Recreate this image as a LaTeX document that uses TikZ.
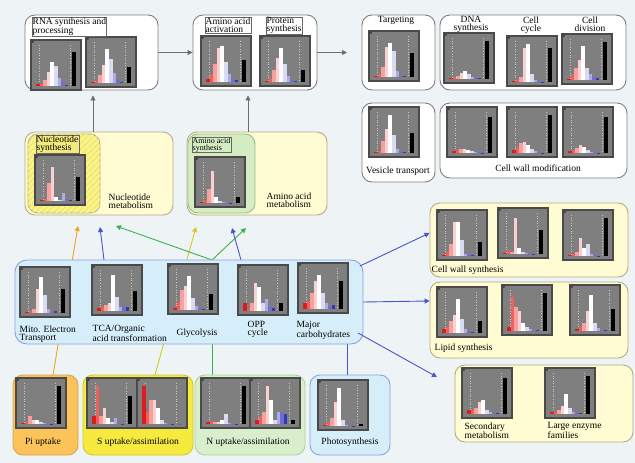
\documentclass[tikz,border=0pt]{standalone}
\usepackage{fontspec}
\setmainfont{Liberation Serif}
\usetikzlibrary{fit,arrows.meta,calc}

\definecolor{bg}{HTML}{EEF3F6}
\definecolor{boxedge}{HTML}{808080}
\definecolor{cream}{HTML}{FFFBD2}
\definecolor{creamedge}{HTML}{B3AC86}
\definecolor{nucyellow}{HTML}{F2EA7C}
\definecolor{aagreen}{HTML}{D6EDC4}
\definecolor{aagreenedge}{HTML}{9DBB8C}
\definecolor{cenblue}{HTML}{D6EEFA}
\definecolor{cenedge}{HTML}{8AA2E0}
\definecolor{piorange}{HTML}{FDC35B}
\definecolor{syellow}{HTML}{F6EA3F}
\definecolor{ngreen}{HTML}{D9EFCB}
\definecolor{ngreenedge}{HTML}{A9D49A}
\definecolor{panelgray}{HTML}{7F7F7F}
\definecolor{paneledge}{HTML}{4A4A4A}
\definecolor{gridline}{HTML}{C8C8C8}
\definecolor{lnorange}{HTML}{F0A424}
\definecolor{lnyellow}{HTML}{D4CC1E}
\definecolor{lngreen}{HTML}{3DB14F}
\definecolor{lnblue}{HTML}{4A55C8}
\definecolor{lngray}{HTML}{6E6E6E}
\definecolor{bin1}{HTML}{E31A1C}
\definecolor{bin2}{HTML}{F0605A}
\definecolor{bin3}{HTML}{F7A0A0}
\definecolor{bin4}{HTML}{FBD0D0}
\definecolor{bin5}{HTML}{FFFFFF}
\definecolor{bin6}{HTML}{DADAF4}
\definecolor{bin7}{HTML}{ABABE8}
\definecolor{bin8}{HTML}{6E6ED0}
\definecolor{bin9}{HTML}{3636B5}

% histogram panel: #1,#2 top-left corner, #3 nine bin heights (0..1), #4 black bar height
\newcommand\hist[4]{%
  \begin{scope}[shift={(#1,#2)}]
    \fill[panelgray] (0,0) rectangle (50,50);
    \draw[gridline, dotted, line width=0.6pt] (8,5) -- (8,46) (39,5) -- (39,46);
    \foreach \h [count=\i] in {#3} {
      \fill[fill=bin\i] ({5+(\i-1)*3.6},46) rectangle ({5+\i*3.6},{46-40*\h});
    }
    \fill[black] (41,46) rectangle (45,{46-40*#4});
    \draw[paneledge, line width=1.6pt] (0,0) rectangle (50,50);
    \fill[black!75] (1.8,1.8) circle (1.3);
  \end{scope}}

\tikzset{
  region/.style={inner sep=0pt, rounded corners=10pt, line width=0.9pt},
  whitebox/.style={region, fill=white, draw=boxedge},
  creambox/.style={region, fill=cream, draw=creamedge},
  lbl/.style={font=\fontsize{9.5}{8}\selectfont, inner sep=0.5pt, align=left},
  smalllbl/.style={font=\fontsize{8}{7}\selectfont, inner sep=0.5pt, align=left},
  framedlbl/.style={lbl, draw=black!60, line width=0.4pt, fill=white},
  conn/.style={line width=0.9pt, -{Triangle[length=5pt,width=5pt]}},
}

\begin{document}
\begin{tikzpicture}[x=1pt, y=-1pt]
\useasboundingbox (0,0) rectangle (635,463);
\fill[bg] (0,0) rectangle (635,463);

% ---------- colored connectors (drawn first, regions cover them) ----------
\coordinate (piTop) at (53,375);
\coordinate (nucInA) at (78,226);
\coordinate (tcaTop) at (104,260);
\coordinate (nucInB) at (100,227);
\coordinate (sTop) at (155,375);
\coordinate (aaInA) at (196,227);
\coordinate (nTop) at (212,375);
\coordinate (nSplit) at (212,260);
\coordinate (nucInC) at (116,226);
\coordinate (aaInB) at (246,228);
\coordinate (oppTop) at (241,260);
\coordinate (aaInC) at (232,228);
\coordinate (phTop) at (347,375);
\coordinate (phIn) at (347,344);

\draw[conn, lnorange] (piTop) -- (nucInA);
\draw[conn, lnyellow] (sTop) -- (aaInA);
\draw[line width=0.9pt, lngreen] (nTop) -- (nSplit);
\draw[conn, lngreen] (nSplit) -- (nucInC);
\draw[conn, lngreen] (nSplit) -- (aaInB);
\draw[conn, lnblue] (tcaTop) -- (nucInB);
\draw[conn, lnblue] (oppTop) -- (aaInC);
\draw[line width=0.9pt, lnblue] (phTop) -- (phIn);

% ---------- top row ----------
\node[whitebox, fit={(25,15) (158,90)}] (rnaBox) {};
\hist{31}{40}{0.06,0.05,0.15,0.35,0.6,0.5,0.2,0.08,0.03}{0.85}
\hist{86}{37}{0.03,0.05,0.2,0.45,0.85,0.6,0.25,0.08,0.03}{0.4}
\node[framedlbl, anchor=north west] (rnaLbl) at (32,17) {RNA synthesis and\\processing};

\node[whitebox, fit={(193,15) (317,90)}] (aaBox) {};
\hist{201}{36}{0.08,0.2,0.45,0.85,0.9,0.5,0.2,0.08,0.06}{0.55}
\hist{260}{36}{0.03,0.1,0.3,0.6,0.85,0.45,0.15,0.05,0.02}{0.3}
\node[framedlbl, anchor=north west] (actLbl) at (205,17) {Amino acid\\activation};
\node[framedlbl, anchor=north west] (proLbl) at (266,17) {Protein\\synthesis};

\node[whitebox, fit={(362,15) (435,90)}] (tgtBox) {};
\hist{369}{31}{0.03,0.08,0.25,0.75,0.85,0.65,0.15,0.04,0.02}{0.6}
\node[lbl, anchor=north] (tgtLbl) at (396,16) {Targeting};

\node[whitebox, fit={(440,15) (626,90)}] (dnaBox) {};
\hist{444}{33}{0.03,0.05,0.08,0.15,0.2,0.12,0.05,0.03,0.02}{0.95}
\hist{507}{36}{0.02,0.05,0.12,0.85,0.95,0.2,0.05,0.02,0.01}{0.85}
\hist{562}{34}{0.03,0.12,0.3,0.5,0.85,0.3,0.15,0.08,0.04}{0.95}
\node[lbl, anchor=north, align=center] (dnaLbl) at (471,16) {DNA\\synthesis};
\node[lbl, anchor=north, align=center] (ccLbl) at (531,16) {Cell\\cycle};
\node[lbl, anchor=north, align=center] (cdLbl) at (590,16) {Cell\\division};

% ---------- second row right ----------
\node[whitebox, fit={(362,103) (435,182)}] (vesBox) {};
\hist{369}{107}{0.02,0.05,0.3,0.6,0.95,0.45,0.1,0.04,0.02}{0.5}
\node[lbl] (vesLbl) at (398,171) {Vesicle transport};

\node[whitebox, fit={(440,103) (627,178)}] (cwmBox) {};
\hist{447}{107}{0.05,0.08,0.1,0.1,0.08,0.05,0.03,0.02,0.01}{0.9}
\hist{507}{107}{0.08,0.15,0.25,0.28,0.2,0.1,0.05,0.03,0.01}{0.95}
\hist{563}{107}{0.05,0.08,0.12,0.2,0.15,0.08,0.03,0.02,0.01}{0.9}
\node[lbl] (cwmLbl) at (538,168) {Cell wall modification};

% ---------- nucleotide metabolism ----------
\node[creambox, fit={(25,132) (173,215)}] (nucOuter) {};
\node[region, fill=nucyellow, draw=creamedge, fit={(28,134) (100,213)}] (nucInner) {};
\begin{scope}
  \clip[rounded corners=10pt] (28,134) rectangle (100,213);
  \foreach \k in {0,6,...,160} {
    \draw[yellow!45!white, line width=1.2pt] ({28+\k-80},213) -- ({28+\k},133);
  }
\end{scope}
\hist{35}{155}{0.02,0.05,0.45,0.85,0.1,0.02,0.2,0.05,0.02}{0.6}
\node[framedlbl, fill=nucyellow, anchor=north west] (nsLbl) at (36,135) {Nucleotide\\synthesis};
\node[lbl, anchor=north west] (nmLbl) at (108,193) {Nucleotide\\metabolism};

% ---------- amino acid metabolism ----------
\node[creambox, fit={(187,132) (327,215)}] (aamOuter) {};
\node[region, fill=aagreen, draw=aagreenedge, fit={(188,134) (255,213)}] (aamInner) {};
\hist{195}{157}{0.02,0.08,0.35,0.8,0.15,0.05,0.02,0.01,0.01}{0.15}
\node[smalllbl, draw=black!60, line width=0.4pt, anchor=north west] (asLbl) at (192,137) {Amino acid\\synthesis};
\node[lbl, anchor=north west] (amLbl) at (266,192) {Amino acid\\metabolism};

% ---------- central carbon metabolism ----------
\node[region, rounded corners=12pt, fill=cenblue, draw=cenedge, fit={(15,260) (363,344)}] (cenBox) {};
\hist{20}{267}{0.02,0.05,0.1,0.6,0.9,0.45,0.1,0.03,0.05}{0.6}
\hist{92}{265}{0.08,0.1,0.15,0.2,0.9,0.35,0.1,0.1,0.1}{0.5}
\hist{168}{264}{0.05,0.2,0.5,0.6,0.85,0.3,0.1,0.04,0.02}{0.4}
\hist{238}{265}{0.2,0.05,0.2,0.7,0.6,0.2,0.3,0.1,0.08}{0.2}
\hist{298}{263}{0.15,0.2,0.4,0.7,0.85,0.4,0.15,0.05,0.1}{0.7}
\node[lbl, anchor=north west] (mitoLbl) at (19,325) {Mito. Electron\\Transport};
\node[lbl, anchor=north west] (tcaLbl) at (92,325) {TCA/Organic\\acid transformation};
\node[lbl, anchor=north west] (glyLbl) at (176,328) {Glycolysis};
\node[lbl, anchor=north west] (oppLbl) at (247,321) {OPP\\cycle};
\node[lbl, anchor=north west] (choLbl) at (296,321) {Major\\carbohydrates};

% ---------- right-hand boxes ----------
\node[creambox, fit={(430,203) (628,277)}] (cwsBox) {};
\hist{437}{210}{0.03,0.1,0.3,0.85,0.85,0.4,0.05,0.05,0.03}{0.35}
\hist{498}{208}{0.02,0.1,0.05,0.9,0.15,0.05,0.02,0.01,0.01}{0.6}
\hist{563}{210}{0.02,0.05,0.1,0.45,0.2,0.3,0.05,0.02,0.01}{0.95}
\node[lbl, anchor=north west] (cwsLbl) at (431,265) {Cell wall synthesis};

\node[creambox, fit={(430,282) (628,358)}] (lipBox) {};
\hist{437}{287}{0.1,0.15,0.3,0.45,0.85,0.35,0.1,0.05,0.03}{0.3}
\hist{502}{285}{0.1,0.85,0.6,0.5,0.2,0.1,0.05,0.03,0.02}{0.95}
\hist{570}{285}{0.05,0.1,0.2,0.5,0.9,0.2,0.08,0.03,0.02}{0.55}
\node[lbl, anchor=north west] (lipLbl) at (434,343) {Lipid synthesis};

\node[creambox, fit={(455,365) (633,442)}] (secBox) {};
\hist{462}{368}{0.1,0.1,0.15,0.3,0.35,0.1,0.05,0.02,0.02}{0.9}
\hist{545}{368}{0.05,0.05,0.1,0.2,0.5,0.15,0.05,0.05,0.02}{0.95}
\node[lbl, anchor=north west] (secLbl) at (464,422) {Secondary\\metabolism};
\node[lbl, anchor=north west] (lefLbl) at (547,422) {Large enzyme\\families};

% ---------- uptake boxes ----------
\node[region, fill=piorange, draw=piorange!85!black, fit={(13,375) (78,455)}] (piBox) {};
\hist{16}{378}{0.03,0.05,0.2,0.1,0.1,0.05,0.02,0.01,0.01}{0.95}
\node[lbl] (piLbl) at (43,442) {Pi uptake};

\node[region, fill=syellow, draw=syellow!85!black, fit={(83,375) (193,455)}] (sBox) {};
\hist{87}{378}{0.2,0.95,0.2,0.4,0.15,0.05,0.15,0.02,0.01}{0.7}
\hist{137}{378}{0.95,0.3,0.6,0.6,0.4,0.1,0.02,0.01,0.01}{0}
\node[lbl] (sLbl) at (138,442) {S uptake/assimilation};

\node[region, fill=ngreen, draw=ngreenedge, fit={(195,375) (305,455)}] (nBox) {};
\hist{201}{378}{0.05,0.08,0.05,0.05,0.1,0.25,0.03,0.01,0.01}{0.95}
\hist{250}{378}{0.1,0.2,0.3,0.95,0.6,0.1,0.3,0.3,0.25}{0.1}
\node[lbl] (nLbl) at (248,442) {N uptake/assimilation};

\node[region, fill=cenblue, draw=cenedge, fit={(310,375) (390,455)}] (phBox) {};
\hist{318}{380}{0.02,0.1,0.2,0.6,0.95,0.15,0.03,0.01,0.01}{0.05}
\node[lbl] (phLbl) at (350,442) {Photosynthesis};

% ---------- gray flow arrows ----------
\coordinate (aaOut) at (347,52.5);
\coordinate (nucUp) at (93,132);
\coordinate (aaUp) at (248,132);
\draw[conn, lngray] (rnaBox.east) -- (aaBox.west);
\draw[conn, lngray] (aaBox.east) -- (aaOut);
\draw[conn, lngray] (nucUp) -- ($(nucUp |- rnaBox.south)+(0,5)$);
\draw[conn, lngray] (aaUp) -- ($(aaUp |- aaBox.south)+(0,5)$);

% ---------- blue arrows to the right ----------
\coordinate (cenOutA) at (360,266);
\coordinate (cenOutB) at (363,302);
\coordinate (cenOutC) at (358,333);
\draw[conn, lnblue] (cenOutA) -- (cwsBox.west |- 0,233);
\draw[conn, lnblue] (cenOutB) -- (lipBox.west |- 0,301);
\draw[conn, lnblue] (cenOutC) -- (437,377);
\end{tikzpicture}
\end{document}
